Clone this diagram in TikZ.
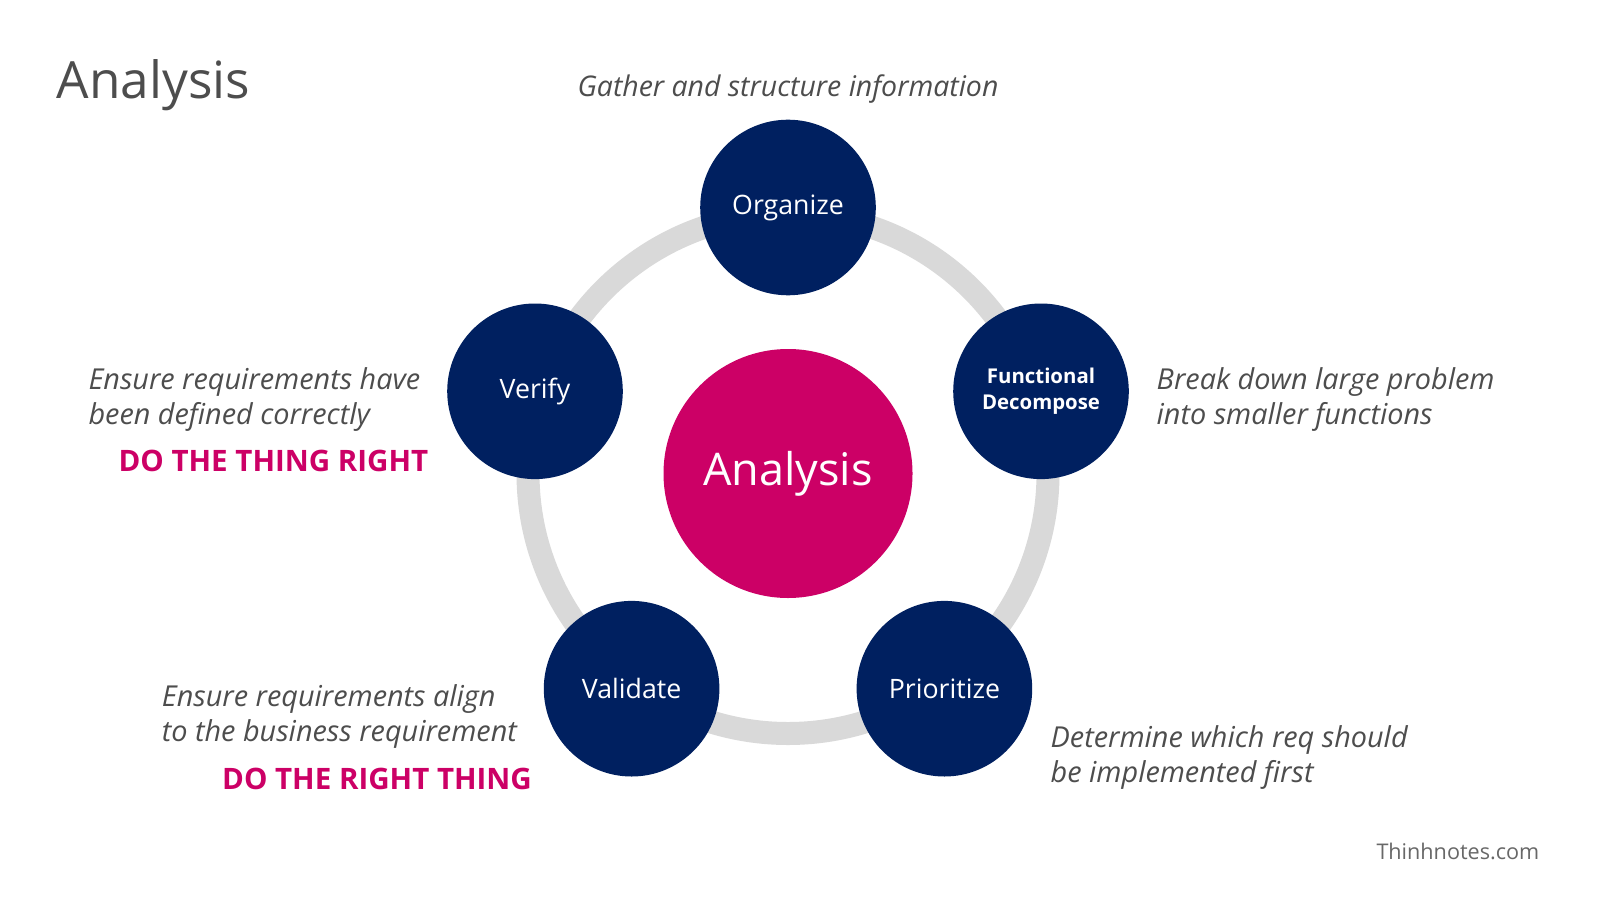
\documentclass[tikz,border=0pt]{standalone}
\usepackage{fontspec}
\setmainfont{Open Sans}
\usepackage{xcolor}
\usetikzlibrary{positioning}
\definecolor{navy}{HTML}{002060}
\definecolor{berry}{HTML}{CC0066}
\definecolor{ringgray}{HTML}{D9D9D9}
\definecolor{inkgray}{HTML}{4D4D4D}
\begin{document}
\begin{tikzpicture}[
    stage/.style={circle, fill=navy, text=white, minimum size=1.756cm, inner sep=0pt, font=\fontsize{7.6}{9}\selectfont},
    hub/.style={circle, fill=berry, text=white, minimum size=2.49cm, inner sep=0pt, font=\fontsize{12.8}{15}\selectfont},
    note/.style={text=inkgray, align=left, inner sep=0pt, font=\fontsize{8.2}{10.1}\selectfont\itshape},
    motto/.style={text=berry, inner sep=0pt, font=\fontsize{8.4}{10}\selectfont\bfseries}
  ]
  \useasboundingbox (0,0) rectangle (16,9);
  \fill[white] (0,0) rectangle (16,9);
  \coordinate (c) at (7.88,4.265);
  \draw[ringgray, line width=0.23cm] (c) circle[radius=2.6];
  % centre and the five stages
  \node[hub] (analysis) at (c) {Analysis};
  \node[stage] (organize) at (7.88,6.925) {Organize};
  \node[stage, font=\fontsize{5.8}{7.6}\selectfont\bfseries, align=center] (decompose) at (10.41,5.087) {Functional\\Decompose};
  \node[stage] (prioritize) at (9.444,2.113) {Prioritize};
  \node[stage] (validate) at (6.316,2.113) {Validate};
  \node[stage] (verify) at (5.35,5.087) {Verify};
  % notes (base = last line)
  \node[text=inkgray, inner sep=0pt, anchor=base west, font=\fontsize{14.6}{17}\selectfont] (title) at (0.56,8.01) {Analysis};
  \node[note, anchor=base, font=\fontsize{8.1}{10.1}\selectfont\itshape] (gather) at (7.88,8.03) {Gather and structure information};
  \node[note, anchor=base west] (breakdown) at (11.56,4.755) {Break down large problem\\into smaller functions};
  \node[note, anchor=base west] (defined) at (0.878,4.755) {Ensure requirements have\\been defined correctly};
  \node[motto, anchor=base east] (thingright) at (4.29,4.286) {DO THE THING RIGHT};
  \node[note, anchor=base west] (align) at (1.612,1.582) {Ensure requirements align\\to the business requirement};
  \node[motto, anchor=base east] (rightthing) at (5.326,1.102) {DO THE RIGHT THING};
  \node[note, anchor=base west] (determine) at (10.50,1.173) {Determine which req should\\be implemented first};
  \node[text=inkgray!85, inner sep=0pt, anchor=base east, font=\fontsize{6.15}{8}\selectfont] (site) at (15.40,0.41) {Thinhnotes.com};
\end{tikzpicture}
\end{document}
